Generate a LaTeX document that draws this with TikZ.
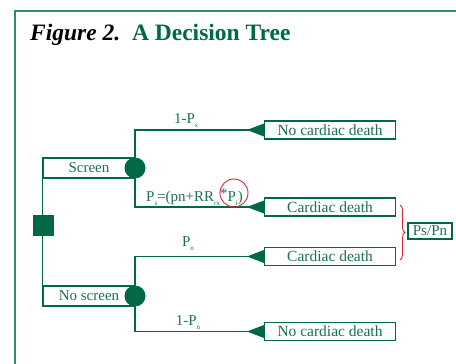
\documentclass[tikz,border=0pt]{standalone}
\usepackage{fontspec}
\setmainfont{Liberation Serif}
\usetikzlibrary{arrows.meta,decorations.pathreplacing}
\definecolor{dgreen}{RGB}{0,104,70}
\definecolor{tgreen}{RGB}{28,112,78}
\definecolor{fgreen}{RGB}{50,140,100}
\definecolor{bred}{RGB}{210,40,50}
\newcommand\sbx[1]{\raisebox{-0.6ex}{\fontsize{7}{7}\selectfont #1}}
\begin{document}
\begin{tikzpicture}[x=1pt,y=-1pt,
  lab/.style={text=tgreen,font=\fontsize{15}{15}\selectfont,inner sep=0pt},
  outbox/.style={draw=dgreen,line width=1.1pt,fill=white,minimum width=131pt,minimum height=18pt,inner sep=0pt,text=tgreen,font=\fontsize{15.5}{15.5}\selectfont},
  choicebox/.style={draw=dgreen,line width=1.1pt,minimum width=92pt,minimum height=20pt,inner sep=0pt,text=tgreen,font=\fontsize{15}{15}\selectfont},
  chance/.style={circle,fill=dgreen,minimum size=21pt,inner sep=0pt},
  decision/.style={rectangle,fill=dgreen,minimum size=21pt,inner sep=0pt},
  branch/.style={draw=dgreen,line width=1.1pt},
  head/.style={fill=dgreen}]
\useasboundingbox (0,0) rectangle (456,364);
% frame
\coordinate (fbl) at (15,366);
\coordinate (ftl) at (15,11);
\coordinate (ftr) at (458,11);
\draw[fgreen,line width=1.3pt] (fbl) -- (ftl) -- (ftr);
% title
\node[anchor=base west,inner sep=0pt,font=\fontsize{23.5}{23.5}\selectfont\bfseries] (title) at (30,40)
  {\textit{Figure 2.}\ \ \textcolor{dgreen}{A Decision Tree}};
% choice boxes
\node[choicebox] (scr) at (89,168) {Screen};
\node[choicebox] (nscr) at (89,296) {No screen};
\draw[branch] (scr.north west) -- (nscr.south west);
\node[decision] (dec) at (43,225) {};
% outcomes
\node[outbox] (o1) at (330,130) {No cardiac death};
\node[outbox] (o2) at (330,207) {Cardiac death};
\node[outbox] (o3) at (330,256.5) {Cardiac death};
\node[outbox] (o4) at (330,331.5) {No cardiac death};
% chance nodes
\coordinate (c1) at (135,168);
\coordinate (c2) at (135,296);
\foreach \c/\o in {c1/o1,c1/o2,c2/o3,c2/o4}{
  \draw[branch] (\c) |- (\o.west);
  \fill[head] ([yshift=-6.5pt]\o.west) -- ([yshift=6.5pt]\o.west) -- ([xshift=-17pt]\o.west) -- cycle;
}
\node[chance] (ch1) at (c1) {};
\node[chance] (ch2) at (c2) {};
% labels
\node[lab,anchor=base] (l1) at (186,123) {1-P\sbx{s}};
\node[lab,anchor=base west] (l2) at (146,201) {P\sbx{s}=(pn+RR\sbx{rx}\raisebox{0.4ex}{*}P\sbx{i})};
\node[draw=bred,line width=0.9pt,circle,minimum size=28pt,inner sep=0pt] (rc) at (234,193) {};
\node[lab,anchor=base] (l3) at (188,246) {P\sbx{n}};
\node[lab,anchor=base] (l4) at (188,325) {1-P\sbx{n}};
% brace and ratio
\coordinate (bt) at (400,205);
\coordinate (bb) at (400,260);
\draw[bred,line width=0.9pt,decorate,decoration={brace,amplitude=5pt}] (bt) -- (bb);
\node[draw=dgreen,line width=1.1pt,minimum width=44pt,minimum height=16pt,inner sep=0pt,text=tgreen,font=\fontsize{15}{15}\selectfont] (ratio) at (430,231) {Ps/Pn};
\end{tikzpicture}
\end{document}
